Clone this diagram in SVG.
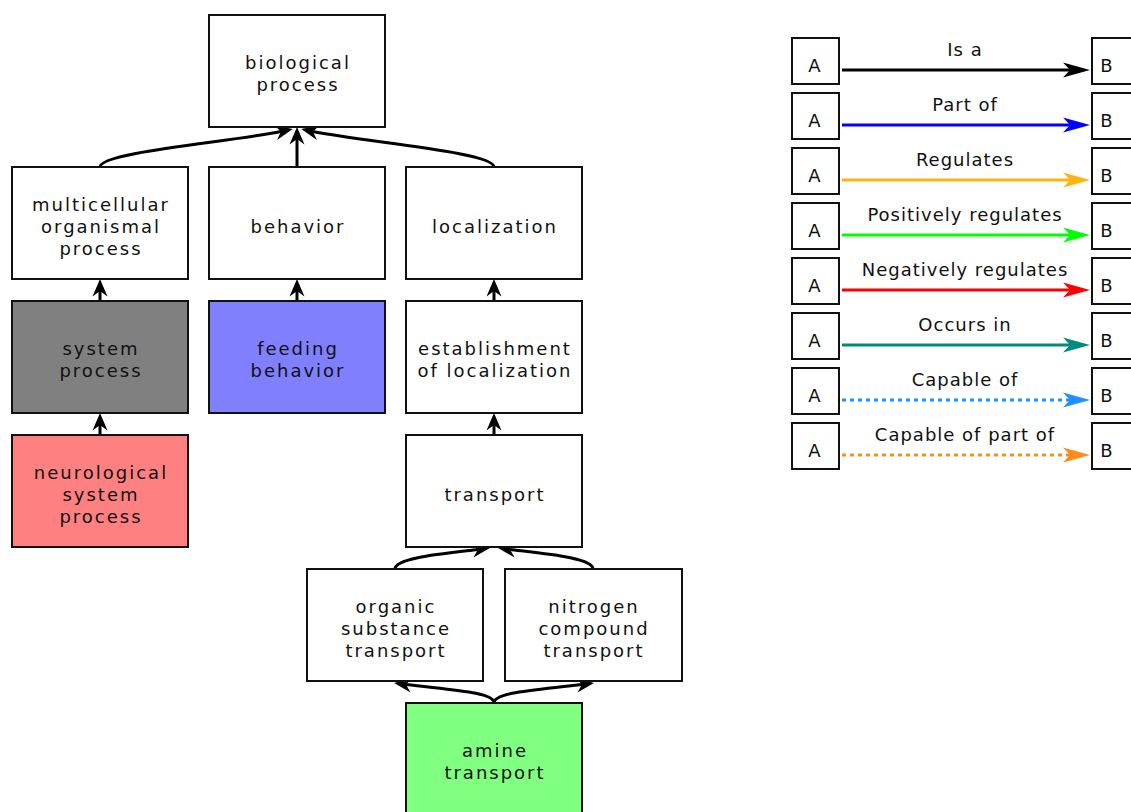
<svg xmlns="http://www.w3.org/2000/svg" width="1131" height="812" viewBox="0 0 1131 812">
<style>
.box{stroke:#111;stroke-width:2}
.w{fill:#fff}
.t{font-family:"DejaVu Sans",sans-serif;font-size:18px;letter-spacing:2px;text-anchor:middle;fill:#111}
.lt{font-family:"DejaVu Sans",sans-serif;font-size:18px;letter-spacing:1px;text-anchor:middle;fill:#111}
.e{fill:none;stroke:#000;stroke-width:3}
.l{fill:none;stroke-width:3}
</style>
<defs>
<marker id="ah" viewBox="-6 -8 19 16" refX="0" refY="0" markerWidth="19" markerHeight="16" markerUnits="userSpaceOnUse" orient="auto"><path d="M12,0 L-5.5,-7.5 L0,0 L-5.5,7.5 Z" fill="#000"/></marker>
<marker id="mk0" viewBox="-8 -8 29 16" refX="0" refY="0" markerWidth="29" markerHeight="16" markerUnits="userSpaceOnUse" orient="auto"><path d="M20,0 L-7,-7.5 L0,0 L-7,7.5 Z" fill="#000"/></marker>
<marker id="mk1" viewBox="-8 -8 29 16" refX="0" refY="0" markerWidth="29" markerHeight="16" markerUnits="userSpaceOnUse" orient="auto"><path d="M20,0 L-7,-7.5 L0,0 L-7,7.5 Z" fill="#0000ff"/></marker>
<marker id="mk2" viewBox="-8 -8 29 16" refX="0" refY="0" markerWidth="29" markerHeight="16" markerUnits="userSpaceOnUse" orient="auto"><path d="M20,0 L-7,-7.5 L0,0 L-7,7.5 Z" fill="#ffb30f"/></marker>
<marker id="mk3" viewBox="-8 -8 29 16" refX="0" refY="0" markerWidth="29" markerHeight="16" markerUnits="userSpaceOnUse" orient="auto"><path d="M20,0 L-7,-7.5 L0,0 L-7,7.5 Z" fill="#00ff00"/></marker>
<marker id="mk4" viewBox="-8 -8 29 16" refX="0" refY="0" markerWidth="29" markerHeight="16" markerUnits="userSpaceOnUse" orient="auto"><path d="M20,0 L-7,-7.5 L0,0 L-7,7.5 Z" fill="#ff0000"/></marker>
<marker id="mk5" viewBox="-8 -8 29 16" refX="0" refY="0" markerWidth="29" markerHeight="16" markerUnits="userSpaceOnUse" orient="auto"><path d="M20,0 L-7,-7.5 L0,0 L-7,7.5 Z" fill="#008b80"/></marker>
<marker id="mk6" viewBox="-8 -8 29 16" refX="0" refY="0" markerWidth="29" markerHeight="16" markerUnits="userSpaceOnUse" orient="auto"><path d="M20,0 L-7,-7.5 L0,0 L-7,7.5 Z" fill="#1e90ff"/></marker>
<marker id="mk7" viewBox="-8 -8 29 16" refX="0" refY="0" markerWidth="29" markerHeight="16" markerUnits="userSpaceOnUse" orient="auto"><path d="M20,0 L-7,-7.5 L0,0 L-7,7.5 Z" fill="#ff8c1a"/></marker>
</defs>
<rect width="1131" height="812" fill="#fff"/>

<g id="connectors">
<path class="e" marker-end="url(#ah)" d="M100,167 C100,152 230,142 281,131.5"/>
<path class="e" marker-end="url(#ah)" d="M297,167 L297,139"/>
<path class="e" marker-end="url(#ah)" d="M494,167 C494,152 364,142 313,131.5"/>
<path class="e" marker-end="url(#ah)" d="M100,301 L100,291"/>
<path class="e" marker-end="url(#ah)" d="M100,435 L100,425"/>
<path class="e" marker-end="url(#ah)" d="M297,301 L297,291"/>
<path class="e" marker-end="url(#ah)" d="M494,301 L494,291"/>
<path class="e" marker-end="url(#ah)" d="M494,435 L494,425"/>
<path class="e" marker-end="url(#ah)" d="M395,569 C395,558 440,554 478,549.5"/>
<path class="e" marker-end="url(#ah)" d="M593,569 C593,558 548,554 510,549.5"/>
<path class="e" marker-end="url(#ah)" d="M494,703 C494,692 450,690 406,684.5"/>
<path class="e" marker-end="url(#ah)" d="M494,703 C494,692 538,690 582,684.5"/>
</g>

<g id="n-biological-process"><rect class="box w" x="209" y="15" width="176" height="112"/><text class="t" x="298" y="69">biological</text><text class="t" x="298" y="91">process</text></g>
<g id="n-multicellular"><rect class="box w" x="12" y="167" width="176" height="112"/><text class="t" x="101" y="211">multicellular</text><text class="t" x="101" y="233">organismal</text><text class="t" x="101" y="255">process</text></g>
<g id="n-behavior"><rect class="box w" x="209" y="167" width="176" height="112"/><text class="t" x="298" y="233">behavior</text></g>
<g id="n-localization"><rect class="box w" x="406" y="167" width="176" height="112"/><text class="t" x="495" y="233">localization</text></g>
<g id="n-system-process"><rect class="box" fill="#808080" x="12" y="301" width="176" height="112"/><text class="t" x="101" y="355">system</text><text class="t" x="101" y="377">process</text></g>
<g id="n-feeding-behavior"><rect class="box" fill="#8080ff" x="209" y="301" width="176" height="112"/><text class="t" x="298" y="355">feeding</text><text class="t" x="298" y="377">behavior</text></g>
<g id="n-establishment"><rect class="box w" x="406" y="301" width="176" height="112"/><text class="t" x="495" y="355">establishment</text><text class="t" x="495" y="377">of localization</text></g>
<g id="n-neurological"><rect class="box" fill="#ff8080" x="12" y="435" width="176" height="112"/><text class="t" x="101" y="479">neurological</text><text class="t" x="101" y="501">system</text><text class="t" x="101" y="523">process</text></g>
<g id="n-transport"><rect class="box w" x="406" y="435" width="176" height="112"/><text class="t" x="495" y="501">transport</text></g>
<g id="n-organic"><rect class="box w" x="307" y="569" width="176" height="112"/><text class="t" x="396" y="613">organic</text><text class="t" x="396" y="635">substance</text><text class="t" x="396" y="657">transport</text></g>
<g id="n-nitrogen"><rect class="box w" x="505" y="569" width="177" height="112"/><text class="t" x="594" y="613">nitrogen</text><text class="t" x="594" y="635">compound</text><text class="t" x="594" y="657">transport</text></g>
<g id="n-amine"><rect class="box" fill="#80ff80" x="406" y="703" width="176" height="120"/><text class="t" x="495" y="757">amine</text><text class="t" x="495" y="779">transport</text></g>

<g id="legend">
<g id="lg-isa"><rect class="box w" x="792" y="38" width="47" height="46"/><rect class="box w" x="1092" y="38" width="47" height="46"/><text class="lt" x="815" y="72">A</text><text class="lt" x="1107" y="72">B</text><text class="lt" x="965" y="56">Is a</text><path class="l" stroke="#000" marker-end="url(#mk0)" d="M842,70 L1070,70"/></g>
<g id="lg-partof"><rect class="box w" x="792" y="93" width="47" height="46"/><rect class="box w" x="1092" y="93" width="47" height="46"/><text class="lt" x="815" y="127">A</text><text class="lt" x="1107" y="127">B</text><text class="lt" x="965" y="111">Part of</text><path class="l" stroke="#0000ff" marker-end="url(#mk1)" d="M842,125 L1070,125"/></g>
<g id="lg-regulates"><rect class="box w" x="792" y="148" width="47" height="46"/><rect class="box w" x="1092" y="148" width="47" height="46"/><text class="lt" x="815" y="182">A</text><text class="lt" x="1107" y="182">B</text><text class="lt" x="965" y="166">Regulates</text><path class="l" stroke="#ffb30f" marker-end="url(#mk2)" d="M842,180 L1070,180"/></g>
<g id="lg-posreg"><rect class="box w" x="792" y="203" width="47" height="46"/><rect class="box w" x="1092" y="203" width="47" height="46"/><text class="lt" x="815" y="237">A</text><text class="lt" x="1107" y="237">B</text><text class="lt" x="965" y="221">Positively regulates</text><path class="l" stroke="#00ff00" marker-end="url(#mk3)" d="M842,235 L1070,235"/></g>
<g id="lg-negreg"><rect class="box w" x="792" y="258" width="47" height="46"/><rect class="box w" x="1092" y="258" width="47" height="46"/><text class="lt" x="815" y="292">A</text><text class="lt" x="1107" y="292">B</text><text class="lt" x="965" y="276">Negatively regulates</text><path class="l" stroke="#ff0000" marker-end="url(#mk4)" d="M842,290 L1070,290"/></g>
<g id="lg-occursin"><rect class="box w" x="792" y="313" width="47" height="46"/><rect class="box w" x="1092" y="313" width="47" height="46"/><text class="lt" x="815" y="347">A</text><text class="lt" x="1107" y="347">B</text><text class="lt" x="965" y="331">Occurs in</text><path class="l" stroke="#008b80" marker-end="url(#mk5)" d="M842,345 L1070,345"/></g>
<g id="lg-capable"><rect class="box w" x="792" y="368" width="47" height="46"/><rect class="box w" x="1092" y="368" width="47" height="46"/><text class="lt" x="815" y="402">A</text><text class="lt" x="1107" y="402">B</text><text class="lt" x="965" y="386">Capable of</text><path class="l" stroke="#1e90ff" stroke-dasharray="4,4" marker-end="url(#mk6)" d="M842,400 L1070,400"/></g>
<g id="lg-capablepart"><rect class="box w" x="792" y="423" width="47" height="46"/><rect class="box w" x="1092" y="423" width="47" height="46"/><text class="lt" x="815" y="457">A</text><text class="lt" x="1107" y="457">B</text><text class="lt" x="965" y="441">Capable of part of</text><path class="l" stroke="#ff8c1a" stroke-dasharray="4,4" marker-end="url(#mk7)" d="M842,455 L1070,455"/></g>
</g>
</svg>
